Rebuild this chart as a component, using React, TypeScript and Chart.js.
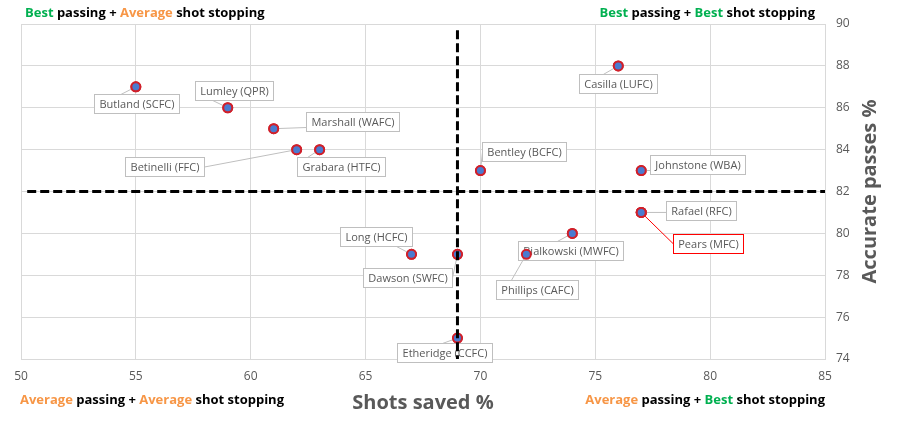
import React, { useEffect, useRef } from "react";
import { Chart, registerables } from "chart.js";

Chart.register(...registerables);

// ---------- data ----------
const players = [
  "Butland (SCFC)",
  "Lumley (QPR)",
  "Marshall (WAFC)",
  "Betinelli (FFC)",
  "Grabara (HTFC)",
  "Bentley (BCFC)",
  "Casilla (LUFC)",
  "Johnstone (WBA)",
  "Rafael (RFC)",
  "Pears (MFC)",
  "Bialkowski (MWFC)",
  "Phillips (CAFC)",
  "Long (HCFC)",
  "Dawson (SWFC)",
  "Etheridge (CCFC)",
];
const shotsSaved = [55, 59, 61, 62, 63, 70, 76, 77, 77, 77, 74, 72, 67, 69, 69];
const accuratePasses = [87, 86, 85, 84, 84, 83, 88, 83, 81, 81, 80, 79, 79, 79, 75];

const xMin = 50;
const xMax = 85;
const xStep = 5;
const yMin = 74;
const yMax = 90;
const yStep = 2;

const quadrantShots = 69;
const quadrantPasses = 82;

const highlightedPlayer = "Pears (MFC)";

const xTitle = "Shots saved %";
const yTitle = "Accurate passes %";

const cornerTopLeft = [["Best", "green"], [" passing + ", "black"], ["Average", "orange"], [" shot stopping", "black"]];
const cornerTopRight = [["Best", "green"], [" passing + ", "black"], ["Best", "green"], [" shot stopping", "black"]];
const cornerBottomLeft = [["Average", "orange"], [" passing + ", "black"], ["Average", "orange"], [" shot stopping", "black"]];
const cornerBottomRight = [["Average", "orange"], [" passing + ", "black"], ["Best", "green"], [" shot stopping", "black"]];

// ---------- label placement (style, pixel offsets of label box centre from point) ----------
const labelOffsets: [number, number][] = [
  [1, 17],
  [6, -17],
  [79, -7],
  [-132, 17],
  [21, 17],
  [44, -19],
  [0, 18],
  [56, -6],
  [60, -2],
  [67, 31],
  [-2, 17],
  [11, 35],
  [-36, -18],
  [-50, 23],
  [-13, 14],
];

const COLORS: Record<string, string> = {
  green: "#00b050",
  orange: "#f79646",
  black: "#000000",
};

const FONT = "'Open Sans', 'DejaVu Sans', sans-serif";

function drawRich(ctx: CanvasRenderingContext2D, parts: string[][], x: number, y: number, align: "left" | "right") {
  ctx.save();
  ctx.font = `bold 13px ${FONT}`;
  ctx.textBaseline = "alphabetic";
  ctx.textAlign = "left";
  const total = parts.reduce((s, p) => s + ctx.measureText(p[0]).width, 0);
  let cx = align === "left" ? x : x - total;
  for (const [t, c] of parts) {
    ctx.fillStyle = COLORS[c];
    ctx.fillText(t, cx, y);
    cx += ctx.measureText(t).width;
  }
  ctx.restore();
}

const overlayPlugin = {
  id: "overlay",
  afterDatasetsDraw(chart: any) {
    const ctx: CanvasRenderingContext2D = chart.ctx;
    const meta = chart.getDatasetMeta(0);
    const xs = chart.scales.x;
    const ys = chart.scales.y;
    ctx.save();
    ctx.font = `11px ${FONT}`;
    // labels
    meta.data.forEach((pt: any, i: number) => {
      const name = players[i];
      const red = name === highlightedPlayer;
      const tw = ctx.measureText(name).width;
      const w = Math.round(tw + 10);
      const h = 19;
      const cx = pt.x + labelOffsets[i][0];
      const cy = pt.y + labelOffsets[i][1];
      const left = Math.round(cx - w / 2) + 0.5;
      const top = Math.round(cy - h / 2) + 0.5;
      const right = left + w;
      const bottom = top + h;
      // leader line
      let ex: number, ey: number;
      if (pt.x < left) {
        ex = left;
        ey = Math.min(Math.max(pt.y, top + 4), bottom - 4);
        if (pt.y < top || pt.y > bottom) ey = top + h / 2;
      } else if (pt.x > right) {
        ex = right;
        ey = top + h / 2;
      } else {
        ex = Math.min(Math.max(pt.x - 15, left + 10), right - 10);
        ey = pt.y < top ? top : bottom;
      }
      ctx.strokeStyle = red ? "#ff0000" : "#bfbfbf";
      ctx.lineWidth = 1;
      ctx.beginPath();
      ctx.moveTo(pt.x, pt.y);
      ctx.lineTo(ex, ey);
      ctx.stroke();
      // box
      ctx.fillStyle = "#ffffff";
      ctx.fillRect(left, top, w, h);
      ctx.strokeStyle = red ? "#ff0000" : "#bfbfbf";
      ctx.strokeRect(left, top, w, h);
      ctx.fillStyle = "#595959";
      ctx.textAlign = "center";
      ctx.textBaseline = "middle";
      ctx.fillText(name, left + w / 2, top + h / 2 + 0.5);
    });
    // redraw markers on top of leader lines
    meta.data.forEach((pt: any) => {
      ctx.beginPath();
      ctx.arc(pt.x, pt.y, 4.5, 0, Math.PI * 2);
      ctx.fillStyle = "#4a7bd0";
      ctx.fill();
      ctx.lineWidth = 2;
      ctx.strokeStyle = "#d0202a";
      ctx.stroke();
    });
    // quadrant dashed lines
    ctx.strokeStyle = "#000000";
    ctx.lineWidth = 3;
    ctx.setLineDash([9, 4]);
    const qx = xs.getPixelForValue(quadrantShots);
    const qy = ys.getPixelForValue(quadrantPasses);
    ctx.beginPath();
    ctx.moveTo(qx, ys.getPixelForValue(89.7));
    ctx.lineTo(qx, ys.getPixelForValue(yMin));
    ctx.stroke();
    ctx.beginPath();
    ctx.moveTo(xs.getPixelForValue(50.27), qy);
    ctx.lineTo(xs.getPixelForValue(xMax), qy);
    ctx.stroke();
    ctx.setLineDash([]);
    ctx.restore();
  },
  afterDraw(chart: any) {
    const ctx: CanvasRenderingContext2D = chart.ctx;
    const area = chart.chartArea;
    drawRich(ctx, cornerTopLeft, 25, 17, "left");
    drawRich(ctx, cornerTopRight, 815, 17, "right");
    drawRich(ctx, cornerBottomLeft, 20, 404, "left");
    drawRich(ctx, cornerBottomRight, 825, 404, "right");
    ctx.save();
    ctx.fillStyle = "#595959";
    ctx.font = `bold 20px ${FONT}`;
    ctx.textAlign = "center";
    ctx.textBaseline = "alphabetic";
    ctx.fillText(xTitle, (area.left + area.right) / 2, 409);
    ctx.translate(870, (area.top + area.bottom) / 2);
    ctx.rotate(-Math.PI / 2);
    ctx.textBaseline = "middle";
    ctx.fillText(yTitle, 0, 0);
    ctx.restore();
  },
};

export default function App() {
  const ref = useRef<HTMLCanvasElement | null>(null);
  useEffect(() => {
    if (!ref.current) return;
    const chart = new Chart(ref.current, {
      type: "scatter",
      data: {
        datasets: [
          {
            data: shotsSaved.map((x, i) => ({ x, y: accuratePasses[i] })),
            pointRadius: 4.5,
            pointBackgroundColor: "#4a7bd0",
            pointBorderColor: "#d0202a",
            pointBorderWidth: 2,
          },
        ],
      },
      options: {
        responsive: false,
        animation: false,
        devicePixelRatio: 1,
        layout: { padding: { left: 21, top: 24, right: 0, bottom: 0 } },
        plugins: { legend: { display: false }, tooltip: { enabled: false }, title: { display: false } },
        scales: {
          x: {
            type: "linear",
            min: xMin,
            max: xMax,
            position: "bottom",
            afterFit: (s: any) => {
              s.height = 63;
            },
            ticks: { stepSize: xStep, color: "#595959", font: { size: 12, family: FONT }, padding: 10 },
            grid: { color: "#d9d9d9", drawTicks: false },
            border: { display: true, color: "#d9d9d9" },
          },
          y: {
            type: "linear",
            min: yMin,
            max: yMax,
            position: "right",
            afterFit: (s: any) => {
              s.width = 72;
            },
            ticks: { stepSize: yStep, color: "#595959", font: { size: 12, family: FONT }, padding: 11 },
            grid: { color: "#d9d9d9", drawTicks: false },
            border: { display: true, color: "#d9d9d9" },
          },
        },
      },
      plugins: [overlayPlugin],
    } as any);
    return () => chart.destroy();
  }, []);
  return (
    <div style={{ position: "fixed", left: 0, top: 0, width: 897, height: 422, background: "#fff" }}>
      <canvas ref={ref} width={897} height={422} style={{ width: 897, height: 422, display: "block" }} />
    </div>
  );
}
